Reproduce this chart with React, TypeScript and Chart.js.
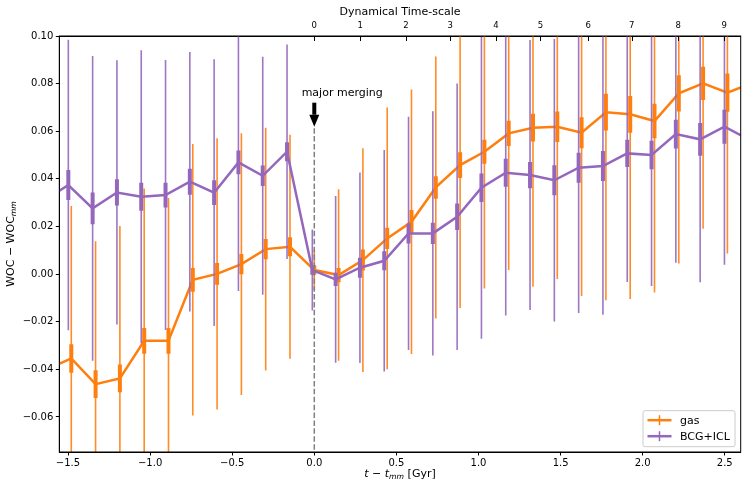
import React, { useEffect, useRef } from 'react';
import { Chart, registerables } from 'chart.js';

Chart.register(...registerables);

const FONT = "'DejaVu Sans', sans-serif";
const GAS = '#ff7f0e';
const BCG = '#9467bd';

// time since the major merger [Gyr]
const timeGas = [-1.628, -1.48, -1.332, -1.184, -1.036, -0.888, -0.74, -0.592, -0.444, -0.296, -0.148, 0.0, 0.148, 0.296, 0.444, 0.592, 0.74, 0.888, 1.036, 1.184, 1.332, 1.48, 1.628, 1.776, 1.924, 2.072, 2.22, 2.368, 2.516, 2.664];
const timeBcg = [-1.646, -1.498, -1.35, -1.202, -1.054, -0.906, -0.758, -0.61, -0.462, -0.314, -0.166, -0.012, 0.13, 0.278, 0.426, 0.574, 0.722, 0.87, 1.018, 1.166, 1.314, 1.462, 1.61, 1.758, 1.906, 2.054, 2.202, 2.35, 2.498, 2.646];

// gas
const gasWoc = [-0.04, -0.0354, -0.0462, -0.0438, -0.028, -0.028, -0.0024, 0.0001, 0.0042, 0.0105, 0.0115, 0.0017, -0.0004, 0.0059, 0.015, 0.022, 0.0364, 0.0458, 0.0514, 0.0591, 0.0615, 0.0619, 0.0594, 0.068, 0.0671, 0.0643, 0.0759, 0.0801, 0.0762, 0.0802];
const gasErrMean = [0.006, 0.006, 0.0058, 0.0058, 0.0054, 0.0054, 0.005, 0.0046, 0.0043, 0.0043, 0.004, 0.002, 0.003, 0.0044, 0.0045, 0.0049, 0.0047, 0.0054, 0.005, 0.0053, 0.0058, 0.0064, 0.0065, 0.0077, 0.0077, 0.0072, 0.0076, 0.007, 0.008, 0.008];
const gasErrStd = [0.064, 0.064, 0.06, 0.064, 0.064, 0.06, 0.057, 0.057, 0.055, 0.051, 0.047, 0.0085, 0.036, 0.047, 0.055, 0.0555, 0.055, 0.06, 0.0574, 0.0574, 0.0668, 0.064, 0.0686, 0.079, 0.0775, 0.072, 0.0714, 0.061, 0.0675, 0.068];

// BCG+ICL
const bcgWoc = [0.031, 0.0374, 0.0276, 0.0343, 0.0325, 0.0332, 0.0388, 0.0342, 0.0469, 0.0413, 0.0514, 0.0017, -0.0022, 0.0027, 0.0056, 0.0171, 0.0171, 0.0241, 0.0363, 0.0426, 0.0416, 0.0394, 0.0447, 0.0454, 0.0507, 0.05, 0.0588, 0.0566, 0.0619, 0.0566];
const bcgErrMean = [0.006, 0.0063, 0.0067, 0.0055, 0.0059, 0.0052, 0.0055, 0.0052, 0.005, 0.0043, 0.004, 0.002, 0.0028, 0.0042, 0.004, 0.0042, 0.0045, 0.0056, 0.006, 0.0059, 0.0055, 0.0063, 0.0063, 0.0063, 0.0057, 0.006, 0.006, 0.0069, 0.0071, 0.007];
const bcgErrStd = [0.06, 0.061, 0.064, 0.0555, 0.0615, 0.0567, 0.0545, 0.056, 0.054, 0.05, 0.045, 0.017, 0.035, 0.04, 0.0465, 0.049, 0.0513, 0.056, 0.0634, 0.06, 0.0567, 0.0593, 0.061, 0.0625, 0.054, 0.055, 0.054, 0.06, 0.058, 0.058];

const xTicks = [-1.5, -1.0, -0.5, 0.0, 0.5, 1.0, 1.5, 2.0, 2.5];
const yTicks = [-0.06, -0.04, -0.02, 0.0, 0.02, 0.04, 0.06, 0.08, 0.1];
const dynTickLabels = ['0', '1', '2', '3', '4', '5', '6', '7', '8', '9'];
const dynTickTimes = [0, 0.28, 0.558, 0.828, 1.107, 1.377, 1.668, 1.933, 2.217, 2.497];

const X_MIN = -1.553;
const X_MAX = 2.597;
const Y_MIN = -0.0747;
const Y_MAX = 0.1;

const fmt = (v: number, d: number) => (v < -1e-9 ? '\u2212' : '') + Math.abs(v).toFixed(d);

type Part = { t: string; it?: boolean; sub?: boolean };

function drawRich(ctx: CanvasRenderingContext2D, parts: Part[], cx: number, base: number, size: number) {
  const fontOf = (p: Part) => `${p.it ? 'italic ' : ''}${p.sub ? size * 0.7 : size}px ${FONT}`;
  let w = 0;
  parts.forEach((p) => {
    ctx.font = fontOf(p);
    w += ctx.measureText(p.t).width;
  });
  let x = cx - w / 2;
  ctx.textAlign = 'left';
  ctx.textBaseline = 'alphabetic';
  parts.forEach((p) => {
    ctx.font = fontOf(p);
    ctx.fillText(p.t, x, base + (p.sub ? size * 0.22 : 0));
    x += ctx.measureText(p.t).width;
  });
}

const errorBars = {
  id: 'errorBars',
  beforeDatasetDraw(chart: any, args: any) {
    const ds: any = chart.data.datasets[args.index];
    if (!ds.errStd) return;
    const { ctx, chartArea: a } = chart;
    const xs = chart.scales.x;
    const ys = chart.scales.y;
    ctx.save();
    ctx.beginPath();
    ctx.rect(a.left, a.top, a.right - a.left, a.bottom - a.top);
    ctx.clip();
    ctx.lineCap = 'butt';
    ds.data.forEach((p: any, i: number) => {
      const px = xs.getPixelForValue(p.x);
      ctx.strokeStyle = ds.thinColor;
      ctx.lineWidth = 1.6;
      ctx.beginPath();
      ctx.moveTo(px, ys.getPixelForValue(p.y - ds.errStd[i]));
      ctx.lineTo(px, ys.getPixelForValue(p.y + ds.errStd[i]));
      ctx.stroke();
      ctx.strokeStyle = ds.borderColor;
      ctx.lineWidth = 4;
      ctx.beginPath();
      ctx.moveTo(px, ys.getPixelForValue(p.y - ds.errMean[i]));
      ctx.lineTo(px, ys.getPixelForValue(p.y + ds.errMean[i]));
      ctx.stroke();
    });
    ctx.restore();
  },
};

const decorations = {
  id: 'decorations',
  afterDatasetsDraw(chart: any) {
    const { ctx, chartArea: a } = chart;
    const xs = chart.scales.x;
    const ys = chart.scales.y;
    const x0 = xs.getPixelForValue(0);
    ctx.save();
    // merger time
    ctx.strokeStyle = '#808080';
    ctx.lineWidth = 1.5;
    ctx.setLineDash([5.5, 2.4]);
    ctx.beginPath();
    ctx.moveTo(x0, ys.getPixelForValue(0.0613));
    ctx.lineTo(x0, a.bottom);
    ctx.stroke();
    ctx.setLineDash([]);
    // arrow
    const yStart = ys.getPixelForValue(0.072);
    const yTip = ys.getPixelForValue(0.0619);
    const yHead = yTip - 12;
    ctx.fillStyle = '#000';
    ctx.fillRect(x0 - 2, yStart, 4, yHead - yStart);
    ctx.beginPath();
    ctx.moveTo(x0 - 5, yHead);
    ctx.lineTo(x0 + 5, yHead);
    ctx.lineTo(x0, yTip);
    ctx.closePath();
    ctx.fill();
    ctx.font = `11px ${FONT}`;
    ctx.textAlign = 'left';
    ctx.textBaseline = 'alphabetic';
    ctx.fillText('major merging', xs.getPixelForValue(-0.077), ys.getPixelForValue(0.0748));
    ctx.restore();
  },
  afterDraw(chart: any) {
    const { ctx, chartArea: a } = chart;
    const x2 = chart.scales.x2;
    ctx.save();
    // frame
    ctx.strokeStyle = '#000';
    ctx.lineWidth = 1;
    ctx.strokeRect(a.left, a.top, a.right - a.left, a.bottom - a.top);
    // inward ticks on the top axis
    dynTickTimes.forEach((t) => {
      const px = Math.round(x2.getPixelForValue(t)) + 0.5;
      ctx.beginPath();
      ctx.moveTo(px, a.top);
      ctx.lineTo(px, a.top + 5);
      ctx.stroke();
    });
    ctx.fillStyle = '#000';
    ctx.font = `11px ${FONT}`;
    ctx.textAlign = 'center';
    ctx.textBaseline = 'alphabetic';
    ctx.fillText('Dynamical Time-scale', (a.left + a.right) / 2, 15);
    drawRich(ctx, [{ t: 't', it: true }, { t: ' \u2212 ' }, { t: 't', it: true }, { t: 'mm', it: true, sub: true }, { t: ' [Gyr]' }], (a.left + a.right) / 2, 476.5, 11);
    ctx.save();
    ctx.translate(14, (a.top + a.bottom) / 2);
    ctx.rotate(-Math.PI / 2);
    drawRich(ctx, [{ t: 'WOC \u2212 WOC' }, { t: 'mm', it: true, sub: true }], 0, 0, 11);
    ctx.restore();
    // legend
    const lw = 92;
    const lh = 36;
    const lx = a.right - 5.7 - lw;
    const ly = a.bottom - 5.3 - lh;
    ctx.fillStyle = 'rgba(255,255,255,0.8)';
    ctx.strokeStyle = '#cccccc';
    ctx.lineWidth = 1;
    ctx.beginPath();
    ctx.roundRect(lx, ly, lw, lh, 2);
    ctx.fill();
    ctx.stroke();
    const entries = [
      { label: 'gas', color: GAS },
      { label: 'BCG+ICL', color: BCG },
    ];
    entries.forEach((e, i) => {
      const cy = ly + 9.5 + i * 16;
      ctx.strokeStyle = e.color;
      ctx.lineWidth = 2.5;
      ctx.beginPath();
      ctx.moveTo(lx + 4.5, cy);
      ctx.lineTo(lx + 28.5, cy);
      ctx.stroke();
      ctx.lineWidth = 1.5;
      ctx.beginPath();
      ctx.moveTo(lx + 16.5, cy - 5);
      ctx.lineTo(lx + 16.5, cy + 5);
      ctx.stroke();
      ctx.fillStyle = '#000';
      ctx.font = `11px ${FONT}`;
      ctx.textAlign = 'left';
      ctx.textBaseline = 'middle';
      ctx.fillText(e.label, lx + 37, cy + 0.5);
    });
    ctx.restore();
  },
};

const App: React.FC = () => {
  const chartRef = useRef<HTMLCanvasElement | null>(null);

  useEffect(() => {
    document.body.style.margin = '0';
    let chartInstance: Chart | null = null;
    if (chartRef.current) {
      const tickFont = { family: FONT, size: 10 };
      chartInstance = new Chart(chartRef.current, {
        type: 'line',
        data: {
          datasets: [
            {
              label: 'gas',
              data: timeGas.map((t, i) => ({ x: t, y: gasWoc[i] })),
              borderColor: GAS,
              borderWidth: 2.5,
              pointRadius: 0,
              tension: 0,
              order: 2,
              errMean: gasErrMean,
              errStd: gasErrStd,
              thinColor: 'rgba(255,127,14,0.9)',
            } as any,
            {
              label: 'BCG+ICL',
              data: timeBcg.map((t, i) => ({ x: t, y: bcgWoc[i] })),
              borderColor: BCG,
              borderWidth: 2.5,
              pointRadius: 0,
              tension: 0,
              order: 1,
              errMean: bcgErrMean,
              errStd: bcgErrStd,
              thinColor: 'rgba(148,103,189,0.9)',
            } as any,
          ],
        },
        options: {
          animation: false,
          responsive: false,
          devicePixelRatio: 1,
          layout: { padding: { left: 0, right: 7.3, top: 0, bottom: 0 } },
          plugins: { legend: { display: false }, tooltip: { enabled: false } },
          scales: {
            x: {
              type: 'linear',
              position: 'bottom',
              min: X_MIN,
              max: X_MAX,
              bounds: 'data',
              afterBuildTicks: (s: any) => {
                s.ticks = xTicks.map((v) => ({ value: v }));
              },
              afterFit: (s: any) => {
                s.height = 40;
              },
              ticks: { callback: (v: any) => fmt(Number(v), 1), font: tickFont, color: '#000', padding: 2, maxRotation: 0, autoSkip: false },
              grid: { drawOnChartArea: false, tickLength: 3.5, color: '#000', lineWidth: 1 },
              border: { color: '#000' },
            },
            x2: {
              type: 'linear',
              position: 'top',
              min: X_MIN,
              max: X_MAX,
              bounds: 'data',
              afterBuildTicks: (s: any) => {
                s.ticks = dynTickTimes.map((v) => ({ value: v }));
              },
              afterFit: (s: any) => {
                s.height = 36;
              },
              ticks: { callback: (_v: any, i: number) => dynTickLabels[i], font: { family: FONT, size: 8.5 }, color: '#000', padding: 5, maxRotation: 0, autoSkip: false },
              grid: { drawOnChartArea: false, drawTicks: false },
              border: { color: '#000' },
            },
            y: {
              type: 'linear',
              min: Y_MIN,
              max: Y_MAX,
              bounds: 'data',
              afterBuildTicks: (s: any) => {
                s.ticks = yTicks.map((v) => ({ value: v }));
              },
              afterFit: (s: any) => {
                s.width = 59.3;
              },
              ticks: { callback: (v: any) => fmt(Number(v), 2), font: tickFont, color: '#000', padding: 2.5, autoSkip: false },
              grid: { drawOnChartArea: false, tickLength: 3.5, color: '#000', lineWidth: 1 },
              border: { color: '#000' },
            },
          },
        } as any,
        plugins: [errorBars, decorations],
      });
    }
    return () => {
      if (chartInstance) {
        chartInstance.destroy();
      }
    };
  }, []);

  return (
    <div style={{ width: '748px', height: '492px' }}>
      <canvas ref={chartRef} width={748} height={492}></canvas>
    </div>
  );
};

export default App;
